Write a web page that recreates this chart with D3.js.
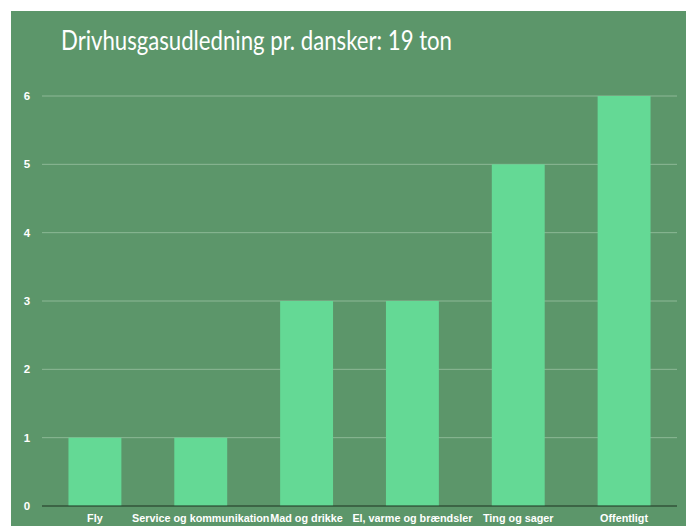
<!DOCTYPE html>
<html>
<head>
<meta charset="utf-8">
<script src="https://cdn.jsdelivr.net/npm/d3@7"></script>
<style>
  body { margin: 0; background: #fff; }
  svg { display: block; }
</style>
</head>
<body>
<div id="chart"></div>
<script>
// chart data
const categories = ['Fly', 'Service og kommunikation', 'Mad og drikke', 'El, varme og brændsler', 'Ting og sager', 'Offentligt'];
const tons = [1, 1, 3, 3, 5, 6];
const yTicks = [0, 1, 2, 3, 4, 5, 6];
const title = 'Drivhusgasudledning pr. dansker: 19 ton';

const width = 686;
const height = 526;

const svg = d3.select('#chart').append('svg')
    .attr('width', width)
    .attr('height', height);

// green panel, leaves a thin white margin top/left
svg.append('rect')
    .attr('x', 11).attr('y', 11)
    .attr('width', width - 11).attr('height', height - 11)
    .attr('fill', '#5c966a');

// title font in the original is narrower than Lato, so squeeze it to the same width
svg.append('text')
    .attr('x', 61).attr('y', 50)
    .attr('fill', '#ffffff')
    .attr('textLength', 391)
    .attr('lengthAdjust', 'spacingAndGlyphs')
    .style('font-family', 'Lato, sans-serif')
    .style('font-size', '27px')
    .text(title);

const x = d3.scaleBand()
    .domain(categories)
    .range([42, 677])
    .paddingInner(0.5)
    .paddingOuter(0.25);

const y = d3.scaleLinear()
    .domain([0, 6])
    .range([506, 96]);

// gridlines
svg.append('g')
    .selectAll('line')
    .data(yTicks.filter((d) => d > 0))
    .enter()
    .append('line')
    .attr('x1', 42).attr('x2', 677)
    .attr('y1', (d) => y(d)).attr('y2', (d) => y(d))
    .attr('stroke', '#8db896')
    .attr('stroke-width', 1);

// y tick labels
svg.append('g')
    .selectAll('text')
    .data(yTicks)
    .enter()
    .append('text')
    .attr('x', 27)
    .attr('y', (d) => y(d) + 4)
    .attr('text-anchor', 'middle')
    .attr('fill', '#ffffff')
    .style('font-family', 'Liberation Sans, Arial, sans-serif')
    .style('font-weight', 'bold')
    .style('font-size', '11.5px')
    .text((d) => d);

// bars
svg.append('g')
    .selectAll('rect')
    .data(categories)
    .enter()
    .append('rect')
    .attr('x', (d) => x(d))
    .attr('y', (d, i) => y(tons[i]))
    .attr('width', x.bandwidth())
    .attr('height', (d, i) => y(0) - y(tons[i]))
    .attr('fill', '#64d995');

// baseline
svg.append('line')
    .attr('x1', 42).attr('x2', 677)
    .attr('y1', y(0)).attr('y2', y(0))
    .attr('stroke', '#1d3321')
    .attr('stroke-width', 1.2);

// category labels
svg.append('g')
    .selectAll('text')
    .data(categories)
    .enter()
    .append('text')
    .attr('x', (d) => x(d) + x.bandwidth() / 2)
    .attr('y', 522)
    .attr('text-anchor', 'middle')
    .attr('fill', '#ffffff')
    .style('font-family', 'Liberation Sans, Arial, sans-serif')
    .style('font-weight', 'bold')
    .style('font-size', '10.8px')
    .text((d) => d);
</script>
</body>
</html>
